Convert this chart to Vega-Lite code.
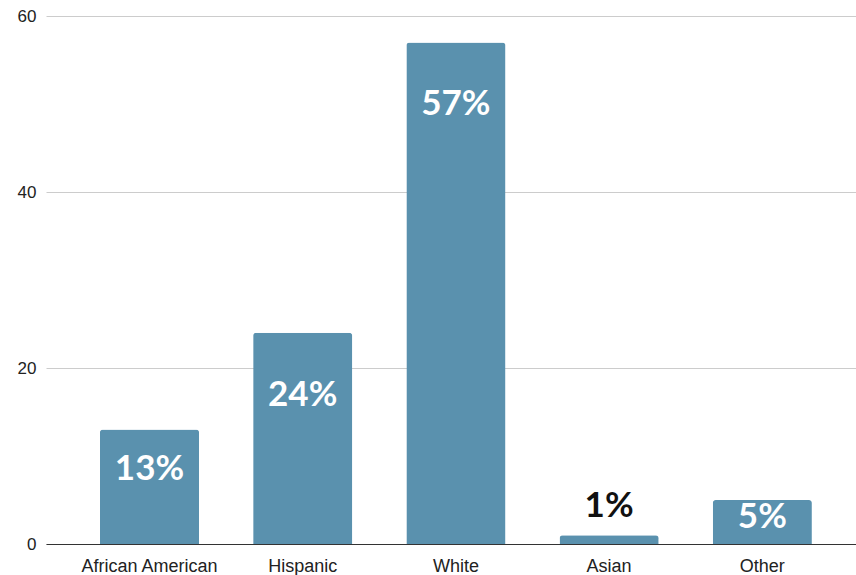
{
  "$schema": "https://vega.github.io/schema/vega-lite/v6.json",
  "width": 810,
  "height": 528,
  "autosize": {"type": "none"},
  "padding": {"left": 46, "top": 16, "right": 0, "bottom": 31},
  "background": "white",
  "config": {"view": {"stroke": null}},
  "data": {
    "values": [
      {"group": "African American", "value": 13, "label": "13%"},
      {"group": "Hispanic", "value": 24, "label": "24%"},
      {"group": "White", "value": 57, "label": "57%"},
      {"group": "Asian", "value": 1, "label": "1%"},
      {"group": "Other", "value": 5, "label": "5%"}
    ]
  },
  "encoding": {
    "x": {
      "field": "group",
      "type": "nominal",
      "sort": null,
      "scale": {"paddingInner": 0.353, "paddingOuter": 0.32, "align": 0.55},
      "axis": {
        "title": null,
        "labelAngle": 0,
        "labelFont": "Liberation Sans",
        "labelFontSize": 18,
        "labelColor": "#222222",
        "labelPadding": 13,
        "ticks": false,
        "domainColor": "#333333",
        "domainWidth": 1.2
      }
    },
    "y": {
      "field": "value",
      "type": "quantitative",
      "scale": {"domain": [0, 60], "nice": false},
      "axis": {
        "title": null,
        "values": [0, 20, 40, 60],
        "labelFont": "Liberation Sans",
        "labelFontSize": 17,
        "labelColor": "#222222",
        "labelPadding": 10,
        "ticks": false,
        "domain": false,
        "gridColor": "#cccccc",
        "gridWidth": 1
      }
    }
  },
  "layer": [
    {
      "mark": {"type": "bar", "color": "#5a91ae", "cornerRadiusTopLeft": 3, "cornerRadiusTopRight": 3}
    },
    {
      "transform": [{"filter": "datum.value >= 20"}],
      "mark": {"type": "text", "font": "Lato", "fontWeight": "bold", "fontSize": 35, "color": "white", "baseline": "alphabetic", "dy": 73},
      "encoding": {"text": {"field": "label"}}
    },
    {
      "transform": [{"filter": "datum.value >= 10 && datum.value < 20"}],
      "mark": {"type": "text", "font": "Lato", "fontWeight": "bold", "fontSize": 35, "color": "white", "baseline": "alphabetic", "dy": 50},
      "encoding": {"text": {"field": "label"}}
    },
    {
      "transform": [{"filter": "datum.value >= 3 && datum.value < 10"}],
      "mark": {"type": "text", "font": "Lato", "fontWeight": "bold", "fontSize": 35, "color": "white", "baseline": "alphabetic", "dy": 28},
      "encoding": {"text": {"field": "label"}}
    },
    {
      "transform": [{"filter": "datum.value < 3"}],
      "mark": {"type": "text", "font": "Lato", "fontWeight": "bold", "fontSize": 35, "color": "#111111", "baseline": "alphabetic", "dy": -18},
      "encoding": {"text": {"field": "label"}}
    }
  ]
}
